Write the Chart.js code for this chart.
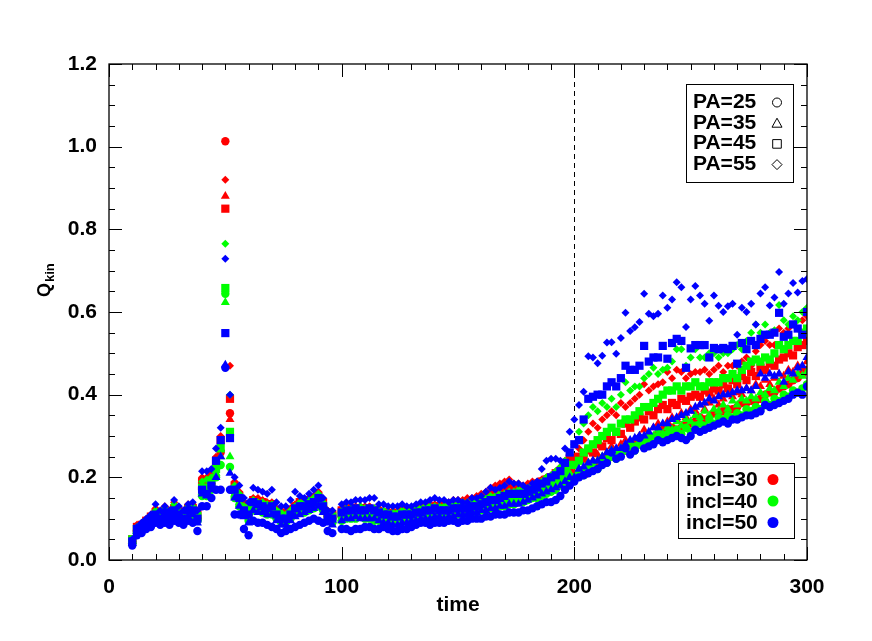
<!DOCTYPE html>
<html>
<head>
<meta charset="utf-8">
<script src="https://cdn.jsdelivr.net/npm/chart.js@4.4.0/dist/chart.umd.min.js"></script>
<style>
html, body { margin: 0; padding: 0; background: #fff; }
#wrap { width: 872px; height: 641px; }
</style>
</head>
<body>
<div id="wrap"><canvas id="chart" width="872" height="641"></canvas></div>
<script>
// sample times: 10, 12, ... 300
var times = [];
for (var t = 10; t <= 300; t += 2) times.push(t);

// rows: t 10-28 | 30-48 | 50-52 | 54-72 | 74-92 | 94-98 | 100-118 | 120-138 | 140-158 | 160-178 | 180-198
//       | 200-218 | 220-238 | 240-258 | 260-278 | 280-298 | 300
var qR25 = [
  0.045,0.07,0.08,0.085,0.095,0.10,0.095,0.11,0.10,0.115,
  0.105,0.10,0.11,0.115,0.10,0.17,0.17,0.18,0.22,0.26,
  1.013,0.355,
  0.165,0.145,0.12,0.11,0.135,0.13,0.125,0.125,0.12,0.11,
  0.10,0.10,0.11,0.12,0.125,0.13,0.135,0.14,0.145,0.13,
  0.105,0.10,null,
  0.105,0.11,0.11,0.115,0.115,0.11,0.11,0.105,0.105,0.105,
  0.10,0.10,0.10,0.105,0.105,0.105,0.11,0.11,0.115,0.115,
  0.115,0.115,0.12,0.12,0.125,0.125,0.125,0.13,0.13,0.135,
  0.135,0.14,0.145,0.15,0.15,0.155,0.16,0.16,0.16,0.16,
  0.165,0.165,0.17,0.175,0.18,0.185,0.19,0.2,0.21,0.22,
  0.20,0.21,0.215,0.22,0.23,0.23,0.24,0.25,0.25,0.255,
  0.265,0.265,0.27,0.28,0.28,0.29,0.29,0.295,0.305,0.305,
  0.31,0.32,0.315,0.32,0.33,0.33,0.335,0.345,0.34,0.345,
  0.355,0.355,0.36,0.365,0.365,0.37,0.38,0.38,0.385,0.385,
  0.39,0.40,0.405,0.405,0.415,0.42,0.425,0.435,0.44,0.45,
  0.46
];
var qR35 = [
  0.045,0.075,0.08,0.09,0.10,0.105,0.10,0.115,0.105,0.12,
  0.11,0.105,0.115,0.12,0.105,0.18,0.18,0.19,0.23,0.27,
  0.88,0.34,
  0.17,0.15,0.125,0.115,0.14,0.135,0.13,0.13,0.125,0.115,
  0.105,0.105,0.115,0.125,0.13,0.135,0.14,0.145,0.15,0.135,
  0.11,0.105,null,
  0.11,0.115,0.115,0.12,0.12,0.115,0.115,0.11,0.11,0.11,
  0.105,0.105,0.105,0.11,0.11,0.11,0.115,0.115,0.12,0.12,
  0.12,0.12,0.125,0.125,0.13,0.13,0.13,0.135,0.135,0.14,
  0.14,0.145,0.15,0.155,0.16,0.165,0.165,0.165,0.165,0.165,
  0.17,0.17,0.175,0.18,0.185,0.19,0.195,0.205,0.215,0.23,
  0.21,0.22,0.205,0.235,0.24,0.255,0.245,0.26,0.275,0.26,
  0.28,0.29,0.28,0.29,0.30,0.315,0.30,0.32,0.33,0.32,
  0.335,0.345,0.34,0.355,0.345,0.365,0.36,0.375,0.365,0.38,
  0.39,0.375,0.39,0.40,0.395,0.405,0.40,0.415,0.41,0.425,
  0.42,0.435,0.425,0.44,0.45,0.445,0.46,0.455,0.47,0.465,
  0.48
];
var qR45 = [
  0.05,0.08,0.085,0.095,0.105,0.115,0.105,0.12,0.115,0.125,
  0.115,0.11,0.125,0.125,0.11,0.19,0.19,0.20,0.24,0.29,
  0.85,0.39,
  0.18,0.155,0.135,0.125,0.145,0.14,0.14,0.135,0.135,0.12,
  0.115,0.11,0.12,0.13,0.14,0.14,0.145,0.15,0.155,0.14,
  0.115,0.11,null,
  0.12,0.12,0.125,0.125,0.125,0.12,0.12,0.12,0.115,0.115,
  0.11,0.11,0.11,0.115,0.115,0.12,0.12,0.125,0.125,0.125,
  0.13,0.13,0.13,0.135,0.135,0.14,0.14,0.14,0.145,0.145,
  0.15,0.155,0.16,0.165,0.17,0.175,0.18,0.175,0.175,0.175,
  0.175,0.18,0.185,0.19,0.195,0.2,0.21,0.215,0.23,0.245,
  0.24,0.25,0.245,0.265,0.26,0.28,0.275,0.295,0.29,0.31,
  0.305,0.33,0.32,0.335,0.345,0.34,0.36,0.35,0.365,0.375,
  0.365,0.38,0.375,0.39,0.385,0.395,0.40,0.395,0.41,0.405,
  0.415,0.41,0.425,0.415,0.435,0.425,0.445,0.435,0.455,0.445,
  0.465,0.46,0.475,0.47,0.485,0.49,0.50,0.495,0.515,0.52,
  0.53
];
var qR55 = [
  0.05,0.085,0.09,0.10,0.11,0.125,0.115,0.13,0.12,0.14,
  0.125,0.12,0.135,0.135,0.12,0.20,0.20,0.21,0.25,0.30,
  0.92,0.47,
  0.19,0.165,0.14,0.13,0.15,0.15,0.145,0.14,0.14,0.125,
  0.12,0.115,0.125,0.135,0.145,0.145,0.15,0.155,0.165,0.145,
  0.12,0.115,null,
  0.125,0.13,0.13,0.13,0.13,0.13,0.13,0.125,0.125,0.12,
  0.12,0.12,0.12,0.125,0.125,0.125,0.13,0.13,0.135,0.135,
  0.135,0.135,0.14,0.14,0.145,0.145,0.145,0.15,0.15,0.155,
  0.16,0.165,0.175,0.18,0.185,0.19,0.195,0.185,0.185,0.18,
  0.185,0.19,0.19,0.195,0.2,0.205,0.215,0.225,0.24,0.255,
  0.25,0.27,0.29,0.31,0.33,0.32,0.34,0.35,0.36,0.35,
  0.38,0.37,0.38,0.39,0.40,0.425,0.41,0.42,0.425,0.43,
  0.455,0.44,0.46,0.455,0.44,0.45,0.455,0.455,0.46,0.45,
  0.46,0.47,0.455,0.47,0.47,0.47,0.48,0.49,0.47,0.505,
  0.52,0.53,0.52,0.52,0.56,0.55,0.56,0.57,0.56,0.58,
  0.59
];
var qG25 = [
  0.04,0.065,0.075,0.08,0.09,0.095,0.09,0.10,0.095,0.105,
  0.10,0.095,0.10,0.105,0.095,0.155,0.155,0.17,0.20,0.23,
  0.644,0.225,
  0.15,0.13,0.11,0.095,0.12,0.12,0.115,0.11,0.11,0.10,
  0.09,0.09,0.10,0.11,0.115,0.115,0.12,0.125,0.13,0.12,
  0.095,0.09,null,
  0.095,0.10,0.10,0.10,0.105,0.10,0.10,0.095,0.095,0.095,
  0.09,0.09,0.09,0.095,0.095,0.095,0.10,0.10,0.10,0.10,
  0.105,0.105,0.105,0.105,0.11,0.11,0.11,0.115,0.115,0.115,
  0.12,0.12,0.125,0.125,0.13,0.13,0.135,0.135,0.14,0.14,
  0.145,0.15,0.15,0.155,0.16,0.165,0.17,0.18,0.19,0.20,
  0.20,0.21,0.205,0.22,0.225,0.22,0.24,0.235,0.25,0.245,
  0.26,0.265,0.275,0.265,0.28,0.275,0.29,0.285,0.30,0.295,
  0.305,0.30,0.315,0.305,0.32,0.31,0.325,0.33,0.325,0.34,
  0.33,0.345,0.34,0.35,0.345,0.355,0.35,0.365,0.36,0.37,
  0.365,0.385,0.375,0.39,0.385,0.40,0.395,0.41,0.405,0.415,
  0.425
];
var qG35 = [
  0.045,0.07,0.08,0.085,0.095,0.10,0.095,0.11,0.10,0.115,
  0.105,0.10,0.11,0.115,0.10,0.165,0.165,0.18,0.21,0.25,
  0.623,0.25,
  0.16,0.14,0.115,0.105,0.13,0.125,0.12,0.12,0.115,0.105,
  0.10,0.095,0.105,0.115,0.12,0.12,0.13,0.135,0.14,0.125,
  0.10,0.095,null,
  0.10,0.105,0.105,0.11,0.11,0.105,0.105,0.10,0.10,0.10,
  0.095,0.095,0.095,0.10,0.10,0.10,0.105,0.105,0.105,0.105,
  0.11,0.11,0.11,0.11,0.115,0.115,0.115,0.12,0.12,0.12,
  0.125,0.125,0.13,0.135,0.135,0.14,0.14,0.145,0.145,0.15,
  0.15,0.155,0.16,0.165,0.17,0.175,0.18,0.19,0.2,0.21,
  0.20,0.22,0.215,0.235,0.23,0.24,0.25,0.245,0.265,0.255,
  0.27,0.265,0.285,0.275,0.295,0.285,0.305,0.30,0.315,0.305,
  0.32,0.315,0.335,0.325,0.34,0.335,0.35,0.345,0.36,0.35,
  0.365,0.36,0.375,0.365,0.385,0.375,0.39,0.385,0.395,0.39,
  0.405,0.40,0.415,0.41,0.43,0.42,0.44,0.435,0.45,0.445,
  0.455
];
var qG45 = [
  0.05,0.075,0.08,0.09,0.10,0.105,0.10,0.115,0.11,0.12,
  0.11,0.105,0.115,0.12,0.105,0.175,0.175,0.19,0.22,0.27,
  0.658,0.31,
  0.17,0.15,0.125,0.115,0.135,0.135,0.13,0.125,0.125,0.115,
  0.105,0.10,0.11,0.12,0.13,0.13,0.135,0.14,0.15,0.13,
  0.11,0.105,null,
  0.11,0.11,0.115,0.115,0.115,0.115,0.11,0.11,0.105,0.105,
  0.10,0.10,0.10,0.105,0.105,0.105,0.11,0.11,0.115,0.11,
  0.115,0.115,0.115,0.12,0.12,0.12,0.125,0.125,0.125,0.13,
  0.13,0.135,0.14,0.14,0.145,0.145,0.15,0.15,0.155,0.155,
  0.16,0.165,0.17,0.175,0.18,0.185,0.195,0.2,0.215,0.23,
  0.23,0.24,0.26,0.27,0.28,0.29,0.30,0.31,0.32,0.31,
  0.33,0.34,0.34,0.35,0.36,0.37,0.37,0.38,0.39,0.40,
  0.41,0.41,0.42,0.41,0.42,0.42,0.43,0.42,0.42,0.43,
  0.43,0.43,0.44,0.44,0.45,0.44,0.46,0.47,0.48,0.485,
  0.48,0.49,0.485,0.50,0.52,0.51,0.52,0.53,0.53,0.55,
  0.56
];
var qG55 = [
  0.05,0.08,0.085,0.095,0.105,0.12,0.115,0.125,0.115,0.135,
  0.12,0.115,0.13,0.13,0.115,0.19,0.195,0.20,0.24,0.28,
  0.765,0.40,
  0.18,0.16,0.13,0.125,0.145,0.14,0.14,0.135,0.135,0.12,
  0.115,0.11,0.12,0.13,0.14,0.14,0.145,0.15,0.16,0.14,
  0.115,0.11,null,
  0.12,0.125,0.125,0.125,0.13,0.125,0.125,0.125,0.12,0.12,
  0.115,0.115,0.115,0.12,0.12,0.12,0.125,0.125,0.13,0.13,
  0.13,0.13,0.13,0.135,0.135,0.135,0.14,0.14,0.14,0.145,
  0.145,0.15,0.155,0.155,0.16,0.16,0.165,0.165,0.17,0.17,
  0.175,0.18,0.185,0.19,0.2,0.205,0.215,0.225,0.24,0.26,
  0.28,0.31,0.33,0.35,0.37,0.36,0.38,0.37,0.39,0.37,
  0.40,0.43,0.41,0.42,0.42,0.44,0.45,0.465,0.45,0.46,
  0.465,0.48,0.51,0.51,0.47,0.49,0.51,0.49,0.49,0.50,
  0.50,0.49,0.50,0.50,0.51,0.52,0.51,0.53,0.55,0.57,
  0.55,0.57,0.55,0.556,0.617,0.58,0.57,0.59,0.58,0.60,
  0.61
];
var qB25 = [
  0.035,0.06,0.065,0.075,0.08,0.09,0.085,0.09,0.085,0.095,
  0.09,0.085,0.095,0.09,0.07,0.13,0.13,0.15,0.17,0.17,
  0.465,0.17,
  0.11,0.11,0.075,0.06,0.095,0.09,0.09,0.085,0.08,0.075,
  0.065,0.07,0.075,0.08,0.085,0.09,0.095,0.10,0.095,0.09,
  0.07,0.065,null,
  0.075,0.075,0.07,0.075,0.075,0.08,0.08,0.075,0.075,0.08,
  0.075,0.07,0.07,0.075,0.075,0.08,0.085,0.09,0.09,0.085,
  0.09,0.09,0.09,0.095,0.095,0.09,0.095,0.095,0.10,0.10,
  0.10,0.105,0.105,0.11,0.11,0.11,0.115,0.115,0.115,0.12,
  0.12,0.125,0.13,0.135,0.14,0.14,0.145,0.155,0.17,0.18,
  0.19,0.20,0.205,0.21,0.215,0.22,0.23,0.235,0.26,0.245,
  0.25,0.27,0.255,0.265,0.295,0.27,0.275,0.28,0.29,0.285,
  0.29,0.295,0.30,0.295,0.29,0.30,0.315,0.31,0.315,0.32,
  0.325,0.33,0.335,0.33,0.34,0.34,0.345,0.35,0.35,0.355,
  0.36,0.375,0.37,0.375,0.38,0.385,0.39,0.40,0.405,0.40,
  0.42
];
var qB35 = [
  0.04,0.07,0.075,0.085,0.09,0.10,0.095,0.105,0.10,0.11,
  0.10,0.095,0.105,0.11,0.09,0.16,0.155,0.17,0.20,0.25,
  0.472,0.21,
  0.15,0.13,0.105,0.09,0.12,0.115,0.115,0.11,0.11,0.095,
  0.085,0.085,0.095,0.105,0.11,0.115,0.12,0.125,0.13,0.115,
  0.09,0.085,null,
  0.095,0.10,0.10,0.105,0.10,0.10,0.10,0.10,0.095,0.09,
  0.09,0.085,0.085,0.09,0.09,0.095,0.095,0.10,0.10,0.10,
  0.105,0.105,0.10,0.105,0.105,0.11,0.11,0.11,0.115,0.115,
  0.12,0.12,0.125,0.125,0.13,0.13,0.135,0.135,0.135,0.14,
  0.145,0.15,0.155,0.16,0.165,0.17,0.175,0.18,0.19,0.20,
  0.20,0.22,0.225,0.235,0.24,0.24,0.25,0.26,0.265,0.27,
  0.27,0.28,0.29,0.295,0.30,0.30,0.31,0.32,0.32,0.33,
  0.33,0.34,0.345,0.35,0.355,0.36,0.37,0.375,0.38,0.39,
  0.385,0.395,0.40,0.40,0.405,0.41,0.41,0.415,0.41,0.42,
  0.45,0.44,0.45,0.445,0.45,0.43,0.455,0.45,0.465,0.47,
  0.49
];
var qB45 = [
  0.045,0.075,0.08,0.09,0.10,0.11,0.10,0.115,0.11,0.12,
  0.11,0.10,0.12,0.12,0.10,0.17,0.16,0.18,0.24,0.29,
  0.549,0.295,
  0.17,0.15,0.12,0.11,0.14,0.135,0.13,0.125,0.13,0.11,
  0.10,0.10,0.11,0.125,0.13,0.13,0.135,0.14,0.15,0.13,
  0.105,0.10,null,
  0.115,0.12,0.12,0.125,0.12,0.12,0.125,0.12,0.115,0.11,
  0.11,0.105,0.105,0.11,0.11,0.11,0.115,0.115,0.12,0.12,
  0.125,0.12,0.12,0.12,0.125,0.125,0.125,0.125,0.13,0.13,
  0.135,0.14,0.145,0.145,0.15,0.155,0.16,0.16,0.16,0.16,
  0.165,0.17,0.175,0.185,0.19,0.2,0.205,0.215,0.235,0.26,
  0.28,0.29,0.34,0.39,0.395,0.40,0.40,0.42,0.43,0.42,
  0.44,0.47,0.46,0.46,0.47,0.518,0.48,0.49,0.49,0.518,
  0.487,0.525,0.535,0.53,0.465,0.512,0.52,0.52,0.52,0.49,
  0.513,0.51,0.513,0.51,0.518,0.475,0.525,0.51,0.53,0.52,
  0.535,0.545,0.545,0.55,0.598,0.54,0.545,0.57,0.56,0.545,
  0.60
];
var qB55 = [
  0.05,0.08,0.09,0.10,0.11,0.135,0.12,0.13,0.12,0.145,
  0.13,0.12,0.135,0.14,0.12,0.215,0.215,0.22,0.27,0.32,
  0.729,0.40,
  0.20,0.18,0.15,0.14,0.175,0.17,0.165,0.16,0.17,0.14,
  0.13,0.13,0.145,0.165,0.155,0.15,0.16,0.17,0.18,0.15,
  0.12,0.12,null,
  0.135,0.14,0.14,0.145,0.145,0.145,0.15,0.15,0.135,0.135,
  0.13,0.13,0.13,0.135,0.13,0.13,0.135,0.14,0.14,0.145,
  0.15,0.145,0.145,0.14,0.145,0.145,0.14,0.14,0.15,0.15,
  0.155,0.165,0.175,0.17,0.175,0.18,0.19,0.185,0.185,0.18,
  0.175,0.185,0.19,0.22,0.24,0.245,0.245,0.24,0.27,0.31,
  0.34,0.375,0.407,0.493,0.49,0.476,0.494,0.526,0.527,0.499,
  0.537,0.598,0.554,0.563,0.576,0.644,0.596,0.59,0.596,0.64,
  0.61,0.63,0.672,0.66,0.564,0.63,0.663,0.64,0.62,0.579,
  0.64,0.615,0.60,0.614,0.62,0.545,0.61,0.60,0.62,0.57,
  0.645,0.66,0.616,0.635,0.697,0.62,0.645,0.67,0.647,0.675,
  0.68
];

var xTickLabels = ['0', '100', '200', '300'];
var yTickLabels = ['0.0', '0.2', '0.4', '0.6', '0.8', '1.0', '1.2'];
var paLabels = ['PA=25', 'PA=35', 'PA=45', 'PA=55'];
var inclLabels = ['incl=30', 'incl=40', 'incl=50'];

var RED = '#ff0000', GREEN = '#00ff00', BLUE = '#0000ff';
var shapes = [
  { style: 'circle', r: 4.2 },
  { style: 'triangle', r: 5.2 },
  { style: 'rect', r: 5.8 },
  { style: 'rectRot', r: 4.0 }
];

function series(label, values, color, shapeIdx, order) {
  var pts = [];
  values.forEach(function (v, i) {
    if (v !== null) pts.push({ x: times[i], y: v });
  });
  return {
    label: label,
    data: pts,
    showLine: false,
    pointStyle: shapes[shapeIdx].style,
    pointRadius: shapes[shapeIdx].r,
    pointBorderWidth: 0,
    backgroundColor: color,
    borderColor: color,
    order: order
  };
}

var FONT = '"Liberation Sans", Arial, Helvetica, sans-serif';

var frame = {
  id: 'frame',
  beforeDatasetsDraw: function (chart) {
    var ctx = chart.ctx, a = chart.chartArea, x = chart.scales.x;
    var px = Math.round(x.getPixelForValue(200)) + 0.5;
    ctx.save();
    ctx.strokeStyle = '#000';
    ctx.lineWidth = 1;
    ctx.setLineDash([5, 4]);
    ctx.beginPath();
    ctx.moveTo(px, a.top);
    ctx.lineTo(px, a.bottom);
    ctx.stroke();
    ctx.restore();
  },
  afterDraw: function (chart) {
    var ctx = chart.ctx, a = chart.chartArea;
    var x = chart.scales.x, y = chart.scales.y;
    ctx.save();
    ctx.strokeStyle = '#000';
    ctx.lineWidth = 1.3;
    ctx.strokeRect(a.left, a.top, a.right - a.left, a.bottom - a.top);

    // inward ticks on all four sides
    ctx.lineWidth = 1;
    ctx.beginPath();
    for (var tv = 0; tv <= 300; tv += 10) {
      var len = tv % 100 === 0 ? 13 : 6;
      var px = Math.round(x.getPixelForValue(tv)) + 0.5;
      ctx.moveTo(px, a.bottom); ctx.lineTo(px, a.bottom - len);
      ctx.moveTo(px, a.top); ctx.lineTo(px, a.top + len);
    }
    for (var k = 0; k <= 24; k++) {
      var lenY = k % 4 === 0 ? 13 : 6;
      var py = Math.round(y.getPixelForValue(k * 0.05)) + 0.5;
      ctx.moveTo(a.left, py); ctx.lineTo(a.left + lenY, py);
      ctx.moveTo(a.right, py); ctx.lineTo(a.right - lenY, py);
    }
    ctx.stroke();

    // axis titles
    ctx.fillStyle = '#000';
    ctx.font = 'bold 21px ' + FONT;
    ctx.textAlign = 'center';
    ctx.textBaseline = 'alphabetic';
    ctx.fillText('time', (a.left + a.right) / 2, 611);

    ctx.save();
    ctx.translate(50, 297);
    ctx.rotate(-Math.PI / 2);
    ctx.textAlign = 'left';
    ctx.font = 'bold 18px ' + FONT;
    ctx.fillText('Q', 0, 0);
    var qw = ctx.measureText('Q').width;
    ctx.font = 'bold 13px ' + FONT;
    ctx.fillText('kin', qw + 1, 4);
    ctx.restore();

    // PA legend (symbols)
    ctx.fillStyle = '#fff';
    ctx.fillRect(686, 84, 107, 98);
    ctx.lineWidth = 1;
    ctx.strokeRect(686.5, 84.5, 107, 98);
    ctx.fillStyle = '#000';
    ctx.font = 'bold 21px ' + FONT;
    ctx.textAlign = 'left';
    paLabels.forEach(function (lab, i) {
      var by = 108 + i * 20.7;
      ctx.fillText(lab, 693, by);
      var cx = 777, cy = by - 5.5;
      ctx.beginPath();
      if (i === 0) {
        ctx.arc(cx, cy, 4.5, 0, Math.PI * 2);
      } else if (i === 1) {
        ctx.moveTo(cx, cy - 5); ctx.lineTo(cx + 5, cy + 4); ctx.lineTo(cx - 5, cy + 4); ctx.closePath();
      } else if (i === 2) {
        ctx.rect(cx - 4.3, cy - 4.3, 8.6, 8.6);
      } else {
        ctx.moveTo(cx, cy - 5); ctx.lineTo(cx + 5, cy); ctx.lineTo(cx, cy + 5); ctx.lineTo(cx - 5, cy); ctx.closePath();
      }
      ctx.stroke();
    });

    // inclination legend (colours)
    ctx.fillStyle = '#fff';
    ctx.fillRect(678, 463, 116, 75);
    ctx.strokeRect(678.5, 463.5, 116, 75);
    var cols = [RED, GREEN, BLUE];
    inclLabels.forEach(function (lab, i) {
      var by = 486 + i * 21.5;
      ctx.fillStyle = '#000';
      ctx.fillText(lab, 686, by);
      ctx.fillStyle = cols[i];
      ctx.beginPath();
      ctx.arc(773, by - 6.5, 5.5, 0, Math.PI * 2);
      ctx.fill();
    });
    ctx.restore();
  }
};

new Chart(document.getElementById('chart'), {
  type: 'scatter',
  data: {
    datasets: [
      series('incl=30 PA=25', qR25, RED, 0, 11),
      series('incl=30 PA=35', qR35, RED, 1, 10),
      series('incl=30 PA=45', qR45, RED, 2, 9),
      series('incl=30 PA=55', qR55, RED, 3, 8),
      series('incl=40 PA=25', qG25, GREEN, 0, 7),
      series('incl=40 PA=35', qG35, GREEN, 1, 6),
      series('incl=40 PA=45', qG45, GREEN, 2, 5),
      series('incl=40 PA=55', qG55, GREEN, 3, 4),
      series('incl=50 PA=25', qB25, BLUE, 0, 3),
      series('incl=50 PA=35', qB35, BLUE, 1, 2),
      series('incl=50 PA=45', qB45, BLUE, 2, 1),
      series('incl=50 PA=55', qB55, BLUE, 3, 0)
    ]
  },
  options: {
    responsive: false,
    animation: false,
    events: [],
    layout: { padding: { top: 64, right: 65, left: 0, bottom: 0 } },
    plugins: { legend: { display: false }, tooltip: { enabled: false } },
    scales: {
      x: {
        type: 'linear',
        min: 0,
        max: 300,
        grid: { display: false },
        border: { display: false },
        afterFit: function (s) { s.height = 81; },
        ticks: {
          stepSize: 100,
          maxRotation: 0,
          padding: 7,
          color: '#000',
          font: { family: FONT, size: 21, weight: 'bold' },
          callback: function (v, i) { return xTickLabels[i]; }
        }
      },
      y: {
        min: 0,
        max: 1.2,
        grid: { display: false },
        border: { display: false },
        afterFit: function (s) { s.width = 109; },
        ticks: {
          stepSize: 0.2,
          padding: 4,
          color: '#000',
          font: { family: FONT, size: 21, weight: 'bold' },
          callback: function (v, i) { return yTickLabels[i]; }
        }
      }
    }
  },
  plugins: [frame]
});
</script>
</body>
</html>
